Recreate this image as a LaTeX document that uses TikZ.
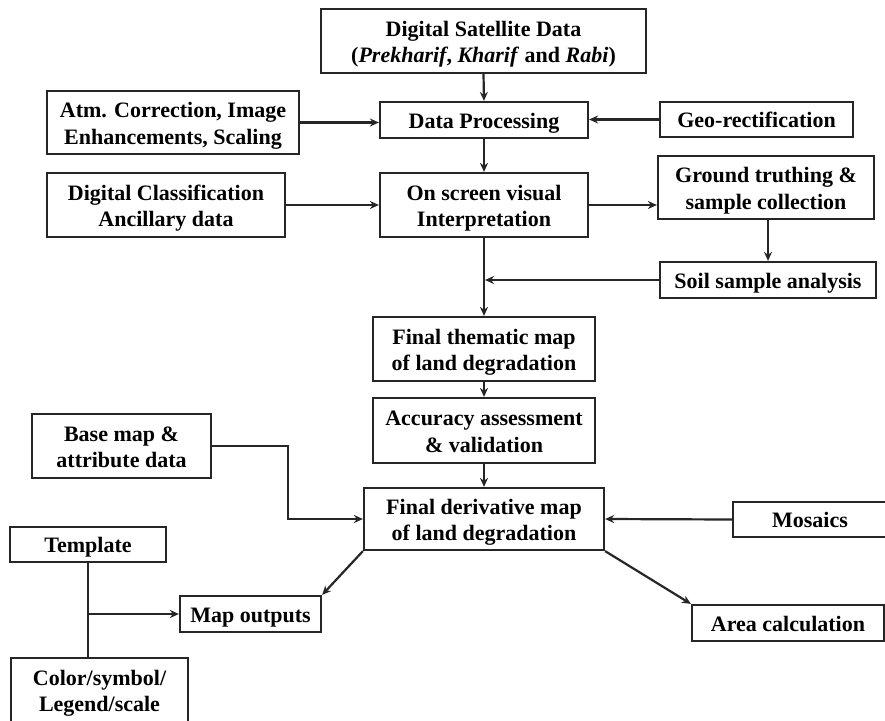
\documentclass[tikz,border=0pt]{standalone}
\usepackage{fontspec}
\setmainfont{Liberation Serif}
\usetikzlibrary{arrows.meta,calc}

% box text: centred lines, with a little extra room above so the letters sit centred
\newcommand\bt[1]{\raisebox{0pt}[\dimexpr\height+6pt\relax][\depth]{%
  \begin{tabular}{@{}c@{}}#1\end{tabular}}}

\begin{document}
\begin{tikzpicture}[x=1pt,y=-1pt,
  box/.style={draw=black!85, line width=2.2pt, fill=white,
    inner sep=0pt, font=\fontsize{22}{26.5}\selectfont\bfseries, text=black},
  link/.style={line width=2.2pt, draw=black!85},
  arr/.style={link, -{Stealth[length=9pt,width=8pt]}}]

\useasboundingbox (0,0) rectangle (885,720);
\clip (0,0) rectangle (885,720);

% processing chain
\node[box, minimum width=325pt, minimum height=64pt] (sat) at (483.5,41)
  {\bt{Digital Satellite Data\\(\textit{Prekharif}, \textit{Kharif} and \textit{Rabi})}};
\node[box, minimum width=252pt, minimum height=63pt] (atm) at (173,122.5)
  {\bt{Atm. Correction, Image\\Enhancements, Scaling}};
\node[box, minimum width=208pt, minimum height=36pt] (dp) at (484,120)
  {\bt{Data Processing}};
\node[box, minimum width=193pt, minimum height=35pt] (geo) at (756.5,119.5)
  {\bt{Geo-rectification}};
\node[box, minimum width=238pt, minimum height=64pt] (dc) at (166,205)
  {\bt{Digital Classification\\Ancillary data}};
\node[box, minimum width=208pt, minimum height=64pt] (osv) at (484,205)
  {\bt{On screen visual\\Interpretation}};
\node[box, minimum width=216pt, minimum height=63pt] (gt) at (766,187.5)
  {\bt{Ground truthing \&\\sample collection}};
\node[box, minimum width=216pt, minimum height=36pt] (soil) at (768,280)
  {\bt{Soil sample analysis}};
\node[box, minimum width=222pt, minimum height=64pt] (ftm) at (484,349)
  {\bt{Final thematic map\\of land degradation}};
\node[box, minimum width=222pt, minimum height=65pt] (acc) at (484,430.5)
  {\bt{Accuracy assessment\\\& validation}};

% map products
\node[box, minimum width=179pt, minimum height=64pt] (base) at (121.5,446)
  {\bt{Base map \&\\attribute data}};
\node[box, minimum width=240pt, minimum height=62pt] (fdm) at (484,519)
  {\bt{Final derivative map\\of land degradation}};
\node[box, minimum width=154pt, minimum height=35pt] (mos) at (810,519.5)
  {\bt{Mosaics}};
\node[box, minimum width=156pt, minimum height=35pt] (tmpl) at (88,544.5)
  {\bt{Template}};
\node[box, minimum width=141pt, minimum height=36pt] (mo) at (250.5,614)
  {\bt{Map outputs}};
\node[box, minimum width=192pt, minimum height=36pt] (area) at (788,623)
  {\bt{Area calculation}};
\node[box, minimum width=177pt, minimum height=64pt] (col) at (99.5,690)
  {\bt{Color/symbol/\\Legend/scale}};

% connectors
\draw[arr] (sat.south) -- (dp.north);
\draw[arr] (atm.east) -- (atm.east -| dp.west);
\draw[arr] (geo.west) -- (geo.west -| dp.east);
\draw[arr] (dp.south) -- (osv.north);
\draw[arr] (dc.east) -- (osv.west);
\draw[arr] (osv.east) -- (osv.east -| gt.west);
\draw[arr] (gt.south -| soil.north) -- (soil.north);
\draw[arr] (osv.south) -- (ftm.north);
\draw[arr] (soil.west) -- ($(soil.west -| osv.south)+(1,0)$);
\draw[arr] (ftm.south) -- (acc.north);
\draw[arr] (acc.south) -- (fdm.north);
\draw[arr] (base.east) -- ++(76,0) |- (fdm.west);
\draw[arr] (mos.west) -- (fdm.east);
\draw[arr] (fdm.south west) -- (mo.north east);
\draw[arr] (fdm.south east) -- (area.north west);
\draw[link] (tmpl.south) -- (tmpl.south |- col.north);
\coordinate (tj) at (tmpl.south |- mo.west);
\draw[arr] (tj) -- (mo.west);
\end{tikzpicture}
\end{document}
